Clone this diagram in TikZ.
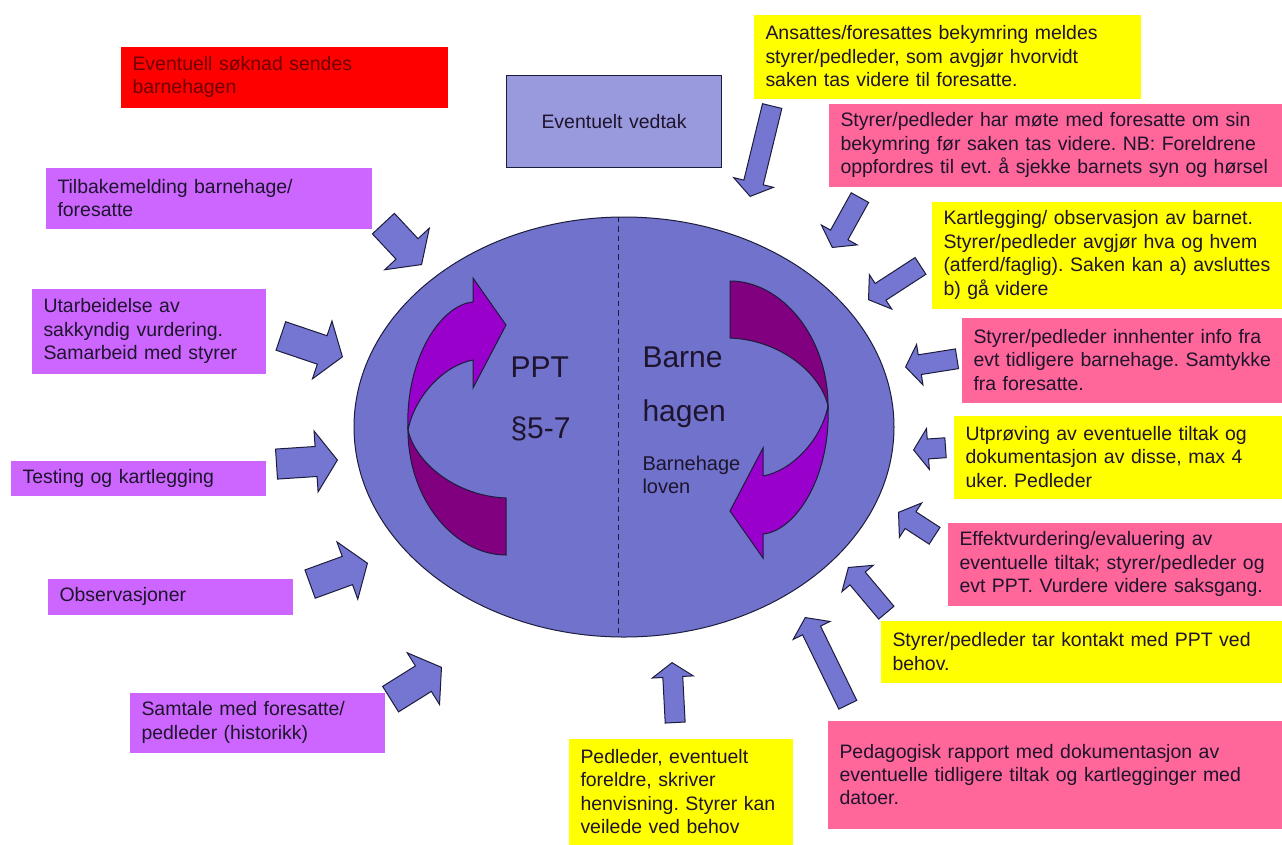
\documentclass[tikz,border=0pt]{standalone}
\usepackage{fontspec}
\setmainfont{Liberation Sans}
\usetikzlibrary{shapes.arrows}
\frenchspacing

\definecolor{worldblue}{RGB}{112,114,204}
\definecolor{arrowblue}{RGB}{116,118,210}
\definecolor{outline}{RGB}{28,28,60}
\definecolor{vedtakblue}{RGB}{153,153,222}
\definecolor{turndark}{RGB}{128,0,128}
\definecolor{turnlight}{RGB}{153,0,204}
\definecolor{boxpurple}{RGB}{204,102,255}
\definecolor{boxpink}{RGB}{255,102,153}
\definecolor{boxyellow}{RGB}{255,255,0}
\definecolor{boxred}{RGB}{255,0,0}
\definecolor{inktext}{RGB}{30,20,45}
\definecolor{redtext}{RGB}{110,0,0}

\tikzset{every picture/.style={line width=0.75pt}}
\tikzset{
  txtbox/.style={rectangle, anchor=north west, inner xsep=9pt, inner ysep=0pt, align=left, text=inktext, font=\fontsize{14.6}{17.6}\selectfont},
  purplebox/.style={txtbox, fill=boxpurple},
  pinkbox/.style={txtbox, fill=boxpink},
  yellowbox/.style={txtbox, fill=boxyellow},
  bigtext/.style={anchor=base west, inner sep=0pt, text=inktext, font=\fontsize{22.5}{27}\selectfont},
  lawtext/.style={anchor=base west, inner sep=0pt, text=inktext, font=\fontsize{15}{18}\selectfont},
  bigarrow/.style={single arrow, draw=outline, fill=arrowblue, anchor=tip, inner xsep=0pt, inner ysep=10.9pt, single arrow head extend=11.6pt, single arrow tip angle=110},
  smallarrow/.style={bigarrow, inner ysep=7.1pt, single arrow head extend=7.9pt},
}

\begin{document}
\begin{tikzpicture}[x=0.75pt,y=0.75pt,yscale=-1,xscale=1]
\path[use as bounding box] (0,0) rectangle (1282,844);
\clip (0,0) rectangle (1282,844);

% Ellipse
\draw[draw=outline, fill=worldblue] (624,427) ellipse [x radius=270, y radius=210];
\draw[draw=outline, dash pattern={on 4pt off 3pt}, line width=0.6pt] (618,217) -- (618,637);

% Turning arrow, PPT side
\draw[draw=outline, fill=turndark] (408,430) .. controls (408,500) and (455,555) .. (506,555) -- (506,498) .. controls (455,496) and (415,462) .. (408,430) -- cycle;
\draw[draw=outline, fill=turnlight] (408,430) .. controls (405,360) and (440,305) .. (473,302) -- (473,278) -- (506,325) -- (473,388) -- (473,360) .. controls (445,365) and (415,395) .. (408,430) -- cycle;
% Turning arrow, barnehage side
\begin{scope}[rotate around={180:(618,418)}]
\draw[draw=outline, fill=turndark] (408,430) .. controls (408,500) and (455,555) .. (506,555) -- (506,498) .. controls (455,496) and (415,462) .. (408,430) -- cycle;
\draw[draw=outline, fill=turnlight] (408,430) .. controls (405,360) and (440,305) .. (473,302) -- (473,278) -- (506,325) -- (473,388) -- (473,360) .. controls (445,365) and (415,395) .. (408,430) -- cycle;
\end{scope}

% Text Node
\node[bigtext] (ppt) at (510,377) {PPT};
\node[bigtext] (paragraf) at (510,438) {§5-7};
\node[bigtext] (barne) at (642,367) {Barne};
\node[bigtext] (hagen) at (642,421) {hagen};
\node[lawtext] (lovA) at (642,470) {Barnehage};
\node[lawtext] (lovB) at (642,493) {loven};

% Left boxes
\node[txtbox, fill=boxred, text=redtext, text width=227.25pt, minimum height=45.75pt] (soknad) at (120,46) {Eventuell søknad sendes\\barnehagen};
\node[purplebox, text width=226.5pt, minimum height=45.75pt] (tilbake) at (45,167) {Tilbakemelding barnehage/\\foresatte};
\node[purplebox, text width=157.5pt, minimum height=63.75pt] (sakkyndig) at (31,288) {Utarbeidelse av\\sakkyndig vurdering.\\Samarbeid med styrer};
\node[purplebox, text width=173.25pt, minimum height=26.25pt] (testing) at (10,460) {Testing og kartlegging};
\node[purplebox, text width=165.75pt, minimum height=27pt] (observ) at (47,578) {Observasjoner};
\node[purplebox, text width=173.25pt, minimum height=45pt] (samtale) at (129,692) {Samtale med foresatte/\\pedleder (historikk)};

% Top and right boxes
\node[txtbox, fill=vedtakblue, draw=outline, align=center, text width=143.25pt, minimum height=69pt] (vedtak) at (506,75) {Eventuelt vedtak};
\node[yellowbox, text width=272.25pt, minimum height=63pt] (bekymring) at (753,14) {Ansattes/foresattes bekymring meldes\\styrer/pedleder, som avgjør hvorvidt\\saken tas videre til foresatte.};
\node[pinkbox, text width=336pt, minimum height=62.25pt] (mote) at (828,103) {Styrer/pedleder har møte med foresatte om sin\\bekymring før saken tas videre. NB: Foreldrene\\oppfordres til evt. å sjekke barnets syn og hørsel};
\node[yellowbox, text width=258.75pt, minimum height=80.25pt] (kartlegging) at (931,201) {Kartlegging/ observasjon av barnet.\\Styrer/pedleder avgjør hva og hvem\\(atferd/faglig). Saken kan a) avsluttes\\b) gå videre};
\node[pinkbox, text width=236.25pt, minimum height=63.75pt] (innhenter) at (961,317) {Styrer/pedleder innhenter info fra\\evt tidligere barnehage. Samtykke\\fra foresatte.};
\node[yellowbox, text width=242.25pt, minimum height=62.25pt] (utproving) at (953,415) {Utprøving av eventuelle tiltak og\\dokumentasjon av disse, max 4\\uker. Pedleder};
\node[pinkbox, text width=246.75pt, minimum height=62.25pt] (effekt) at (947,522) {Effektvurdering/evaluering av\\eventuelle tiltak; styrer/pedleder og\\evt PPT. Vurdere videre saksgang.};
\node[yellowbox, text width=297pt, minimum height=46.5pt] (kontakt) at (880,620) {Styrer/pedleder tar kontakt med PPT ved\\behov.};
\node[pinkbox, text width=336.75pt, minimum height=81pt] (rapport) at (827,720) {Pedagogisk rapport med dokumentasjon av\\eventuelle tidligere tiltak og kartlegginger med\\datoer.\\[17pt]};
\node[yellowbox, text width=150pt, minimum height=79.5pt] (henvisning) at (568,738) {Pedleder, eventuelt\\foreldre, skriver\\henvisning. Styrer kan\\veilede ved behov};

% Block arrows
\node[bigarrow, minimum height=42pt, rotate=-47] (tilbakepil) at (422,265) {};
\node[bigarrow, minimum height=48.75pt, rotate=-18.7] (sakkyndigpil) at (343,357) {};
\node[bigarrow, minimum height=45.75pt, rotate=3.8] (testpil) at (338,460) {};
\node[bigarrow, minimum height=45.75pt, rotate=20] (observpil) at (368,563) {};
\node[bigarrow, minimum height=45pt, rotate=32] (samtalepil) at (442,667) {};
\node[smallarrow, minimum height=45pt, rotate=93] (henvispil) at (672,662) {};
\node[smallarrow, minimum height=69.75pt, rotate=-103.7] (bekympil) at (750,197) {};
\node[smallarrow, minimum height=42.75pt, rotate=-119] (motepil) at (832,248) {};
\node[smallarrow, minimum height=46.5pt, rotate=213] (kartpil) at (868,300) {};
\node[smallarrow, minimum height=39pt, rotate=189] (infopil) at (905,367) {};
\node[smallarrow, minimum height=24pt, rotate=184] (provepil) at (913,450) {};
\node[smallarrow, minimum height=32.25pt, rotate=147] (effektpil) at (898,512) {};
\node[smallarrow, minimum height=44.25pt, rotate=130] (kontaktpil) at (848,567) {};
\node[smallarrow, minimum height=72.75pt, rotate=116] (rapportpil) at (805,617) {};

\end{tikzpicture}
\end{document}
